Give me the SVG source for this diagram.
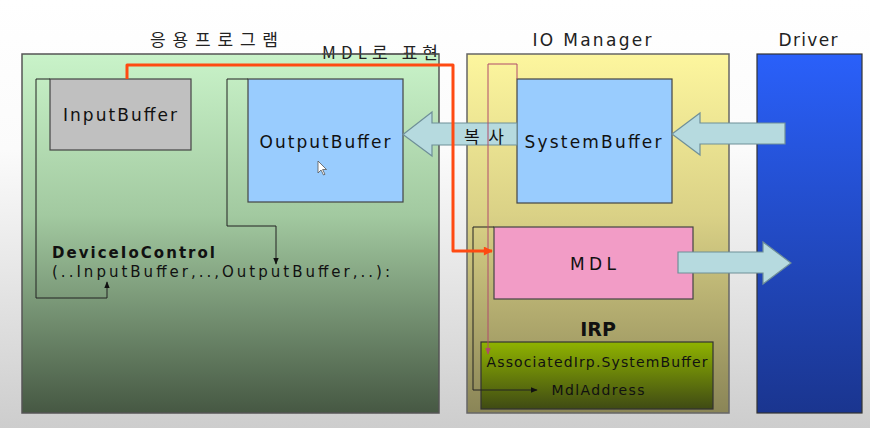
<svg xmlns="http://www.w3.org/2000/svg" width="870" height="428" viewBox="0 0 870 428">
<defs>
<linearGradient id="bg" x1="0" y1="0" x2="0" y2="1">
<stop offset="0" stop-color="#ffffff"/><stop offset="0.35" stop-color="#fbfbfb"/><stop offset="1" stop-color="#cdcdcd"/>
</linearGradient>
<linearGradient id="gGreen" x1="0" y1="0" x2="0" y2="1">
<stop offset="0" stop-color="#c9f3c9"/><stop offset="0.45" stop-color="#a2c9a0"/><stop offset="1" stop-color="#465843"/>
</linearGradient>
<linearGradient id="gYellow" x1="0" y1="0" x2="0" y2="1">
<stop offset="0" stop-color="#fdf69e"/><stop offset="0.45" stop-color="#dad186"/><stop offset="1" stop-color="#8a8557"/>
</linearGradient>
<linearGradient id="gBlue" x1="0" y1="0" x2="0" y2="1">
<stop offset="0" stop-color="#2a60fa"/><stop offset="1" stop-color="#1a358f"/>
</linearGradient>
<linearGradient id="gOlive" x1="0" y1="0" x2="0" y2="1">
<stop offset="0" stop-color="#8fb300"/><stop offset="1" stop-color="#3f4a14"/>
</linearGradient>
<marker id="ahBlack" viewBox="0 0 10 10" refX="9" refY="5" markerWidth="7" markerHeight="7" orient="auto" markerUnits="userSpaceOnUse">
<path d="M0,1 L10,5 L0,9 z" fill="#111"/>
</marker>
<marker id="ahMaroon" viewBox="0 0 10 10" refX="9" refY="5" markerWidth="7" markerHeight="7" orient="auto" markerUnits="userSpaceOnUse">
<path d="M0,1 L10,5 L0,9 z" fill="#b04a6a"/>
</marker>
<marker id="ahRed" viewBox="0 0 10 10" refX="9" refY="5" markerWidth="11" markerHeight="9" orient="auto" markerUnits="userSpaceOnUse">
<path d="M0,0 L10,5 L0,10 z" fill="#ff4a12"/>
</marker>
</defs>
<style>
text{font-family:"DejaVu Sans","Noto Sans CJK KR",sans-serif;fill:#111;}
.kr{font-family:"Noto Sans CJK KR","DejaVu Sans",sans-serif;}
.title{font-size:17px;fill:#222;}
.lbl{font-size:17px;}
.box{stroke:#444;stroke-width:1.2;}
.thin{fill:none;stroke:#222;stroke-width:1;}
.bigarrow{fill:#b6dadf;stroke:#6f8f98;stroke-width:1.2;}
</style>
<rect x="0" y="0" width="870" height="428" fill="url(#bg)"/>

<g id="app">
<rect x="22" y="54" width="417" height="359" fill="url(#gGreen)" stroke="#555" stroke-width="1.5"/>
<text class="title kr" x="214" y="46" text-anchor="middle" textLength="128" lengthAdjust="spacing">응용프로그램</text>
</g>

<g id="iomanager">
<rect x="467" y="54" width="262" height="359" fill="url(#gYellow)" stroke="#666" stroke-width="1.5"/>
<text class="title" x="592" y="46" text-anchor="middle" textLength="119" lengthAdjust="spacing">IO Manager</text>
</g>

<g id="driver">
<rect x="757" y="54" width="105" height="359" fill="url(#gBlue)" stroke="#333" stroke-width="1.2"/>
<text class="title" x="808" y="46" text-anchor="middle" textLength="59" lengthAdjust="spacing">Driver</text>
</g>

<g id="inputbuffer">
<rect class="box" x="50" y="79" width="141" height="71" fill="#c0c0c0"/>
<text class="lbl" x="120" y="121" text-anchor="middle" textLength="114" lengthAdjust="spacing">InputBuffer</text>
</g>

<g id="outputbuffer">
<rect class="box" x="248" y="79" width="155" height="123" fill="#99ccfe"/>
<text class="lbl" x="325" y="148" text-anchor="middle" textLength="131" lengthAdjust="spacing">OutputBuffer</text>
<path d="M318,161 L318,173 L321,170 L323.5,175 L325,174.3 L322.6,169.5 L326.5,169.5 z" fill="#fff" stroke="#555" stroke-width="0.8"/>
</g>

<g id="systembuffer">
<rect class="box" x="517" y="79" width="155" height="124" fill="#99ccfe"/>
<text class="lbl" x="593" y="148" text-anchor="middle" textLength="137" lengthAdjust="spacing">SystemBuffer</text>
</g>

<g id="mdl">
<rect class="box" x="494" y="227" width="199" height="72" fill="#f29cc6"/>
<text class="lbl" x="593" y="270" text-anchor="middle" textLength="46" lengthAdjust="spacing">MDL</text>
</g>

<g id="irp">
<text x="598" y="336" text-anchor="middle" font-size="19" font-weight="bold">IRP</text>
<rect x="481" y="342" width="232" height="67" fill="url(#gOlive)" stroke="#333" stroke-width="1.2"/>
<text x="597" y="367" text-anchor="middle" font-size="14" textLength="221" lengthAdjust="spacing">AssociatedIrp.SystemBuffer</text>
<text x="598" y="395" text-anchor="middle" font-size="14" textLength="93" lengthAdjust="spacing">MdlAddress</text>
</g>

<g id="devicecall">
<text x="52" y="258" font-size="15" font-weight="bold" textLength="163" lengthAdjust="spacing">DeviceIoControl</text>
<text x="52" y="277" font-size="15" textLength="338" lengthAdjust="spacing">(..InputBuffer,..,OutputBuffer,..):</text>
</g>

<g id="connectors">
<path class="bigarrow" d="M517,123 L432,123 L432,112 L403,134.5 L432,156 L432,145 L517,145 z"/>
<text class="kr" x="484" y="143" text-anchor="middle" font-size="17" textLength="40" lengthAdjust="spacing">복사</text>
<path class="bigarrow" d="M785,123 L700,123 L700,113 L672,134 L700,155 L700,144 L785,144 z"/>
<path class="bigarrow" d="M678,252 L763,252 L763,242 L791,263 L763,284 L763,273 L678,273 z"/>
<path class="thin" d="M50,79 H36 V298 H107 V282" marker-end="url(#ahBlack)"/>
<path class="thin" d="M248,79 H227 V226 H276 V264" marker-end="url(#ahBlack)"/>
<path class="thin" d="M494,227 H473 V390 H537" marker-end="url(#ahBlack)"/>
<path d="M517,79 V64 H488 V354" fill="none" stroke="#b04a6a" stroke-width="1" marker-end="url(#ahMaroon)"/>
<path d="M127,79 V65 H453 V251 H492" fill="none" stroke="#ff4a12" stroke-width="3" stroke-linejoin="round" marker-end="url(#ahRed)"/>
<text class="title kr" x="380" y="59" text-anchor="middle" textLength="116" lengthAdjust="spacing">MDL로 표현</text>
<line x1="322" y1="54" x2="439" y2="54" stroke="#555" stroke-width="1.2"/>
</g>
</svg>
